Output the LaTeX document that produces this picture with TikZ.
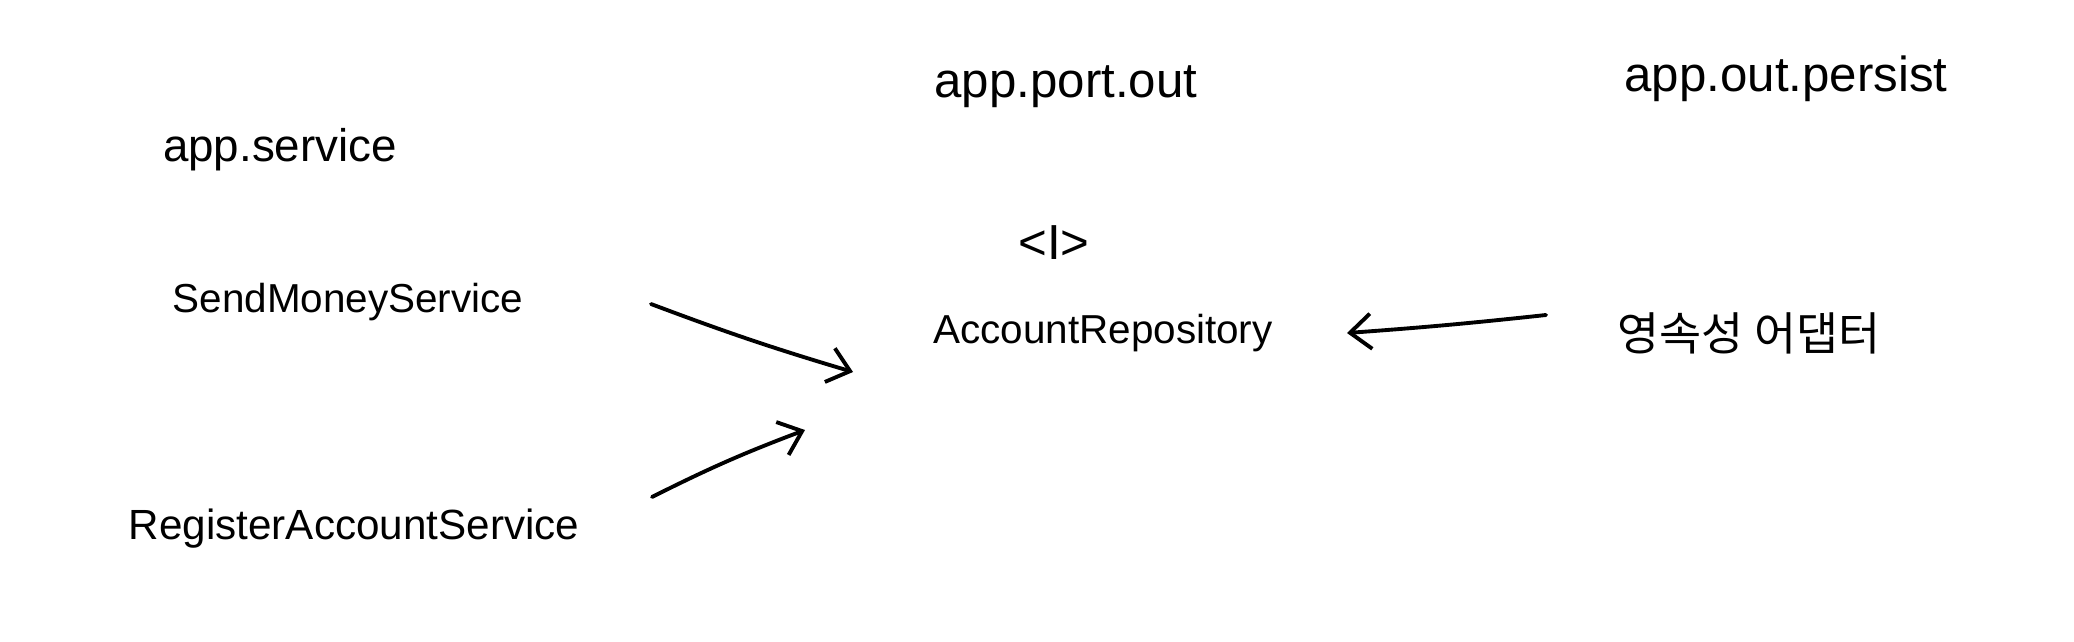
\documentclass[tikz,border=0pt]{standalone}
\usepackage{fontspec}
\setmainfont{Liberation Sans}
\newfontfamily\krfont{Noto Sans CJK KR}
\usetikzlibrary{arrows.meta}

\begin{document}
\begin{tikzpicture}[x=0.01cm,y=-0.01cm,->,>={Straight Barb[length=6pt,width=10pt]},
    line width=1.1pt,line cap=round,
    pkg/.style={font=\fontsize{14}{16}\selectfont},
    cls/.style={font=\fontsize{11.5}{14}\selectfont}]

  \useasboundingbox (0,0) rectangle (2074,642);

  \node[pkg,font=\fontsize{13}{15}\selectfont] (service) at (280,150) {app.service};
  \node[pkg] (portout) at (1066,87) {app.port.out};
  \node[pkg] (persist) at (1786,79) {app.out.persist};

  \node[cls] (send) at (348,302) {SendMoneyService};
  \node[cls,font=\fontsize{12}{14}\selectfont] (register) at (354,529) {RegisterAccountService};
  \node[pkg] (iface) at (1054,243) {<I>};
  \node[cls] (repo) at (1103,333) {AccountRepository};
  \node[font=\krfont\fontsize{13}{15}\selectfont] (adapter) at (1749,333) {영속성 어댑터};

  \coordinate (send-out) at (651,304);
  \coordinate (repo-in1) at (853,372);
  \coordinate (register-out) at (652,497);
  \coordinate (repo-in2) at (805,430);
  \coordinate (adapter-out) at (1546,315);
  \coordinate (repo-in3) at (1347,333);

  \path (send-out) edge[bend right=2] (repo-in1)
  (register-out) edge[bend left=3] (repo-in2)
  (adapter-out) edge[bend left=1] (repo-in3);

\end{tikzpicture}
\end{document}
